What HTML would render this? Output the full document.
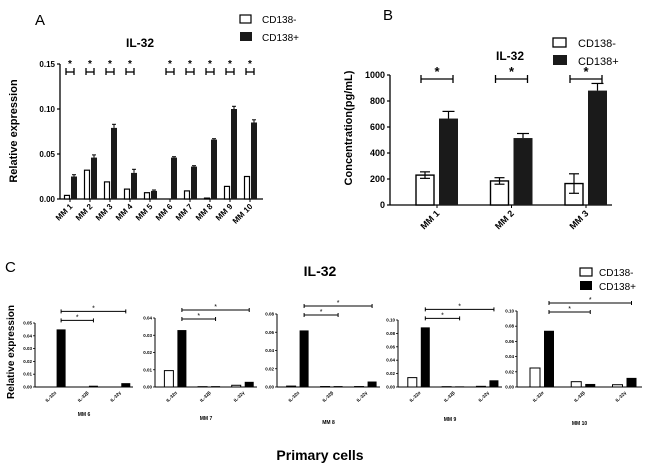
<!DOCTYPE html>
<html><head><meta charset="utf-8"><style>
body{margin:0;background:#fff;}
svg{display:block;font-family:"Liberation Sans",Arial,sans-serif;}
</style></head><body>
<svg id="fig" width="650" height="471" viewBox="0 0 650 471"></svg>
<script>
// Panel A data
const aCategories = ["MM 1","MM 2","MM 3","MM 4","MM 5","MM 6","MM 7","MM 8","MM 9","MM 10"];
const aNeg = [0.004,0.032,0.019,0.011,0.007,0,0.009,0.001,0.014,0.025];
const aPos = [0.025,0.046,0.079,0.029,0.009,0.046,0.036,0.066,0.100,0.085];
const aNegErr = [0.001,0.001,0.001,0.001,0.001,0,0.001,0.0005,0.001,0.001];
const aPosErr = [0.002,0.003,0.004,0.004,0.001,0.001,0.001,0.001,0.003,0.003];
const aSig = [true,true,true,true,false,true,true,true,true,true];
const aTicks = [0,0.05,0.10,0.15];
const aTickLabels = ["0.00","0.05","0.10","0.15"];
// Panel B data
const bCategories = ["MM 1","MM 2","MM 3"];
const bNeg = [230,185,165];
const bPos = [665,515,880];
const bNegErr = [25,25,75];
const bPosErr = [55,35,55];
const bTicks = [0,200,400,600,800,1000];
// Panel C data
const cSubjects = ["MM 6","MM 7","MM 8","MM 9","MM 10"];
const cIsoforms = ["IL-32α","IL-32β","IL-32γ"];
const cNeg = [[0,0,0],[0.0095,0.0002,0.001],[0.001,0.0005,0.0005],[0.014,0.0005,0.001],[0.025,0.007,0.003]];
const cPos = [[0.045,0.001,0.003],[0.033,0.0005,0.003],[0.062,0.001,0.006],[0.089,0.001,0.010],[0.074,0.004,0.012]];
const cMax = [0.05,0.04,0.08,0.10,0.10];
const cStep = [0.01,0.01,0.02,0.02,0.02];

const NS="http://www.w3.org/2000/svg";
const svg=document.getElementById('fig');
function el(tag,attrs,parent,text){const e=document.createElementNS(NS,tag);for(const k in attrs)e.setAttribute(k,attrs[k]);if(text!==undefined)e.textContent=text;(parent||svg).appendChild(e);return e;}
function line(x1,y1,x2,y2,w,p){return el('line',{x1,y1,x2,y2,stroke:'#000','stroke-width':w||1},p);}

// ---------- Panel A ----------
(function(){
  const g=el('g',{});
  
  
  const x0=60,x1=263,yZero=199,yTop=64,max=0.15;
  const y=v=>yZero-(v/max)*(yZero-yTop);
  const gx=i=>70+i*20;
  const t=el('text',{x:35,y:25,'font-size':15},g,'A');
  const ti=el('text',{x:140,y:47,'font-size':12,'font-weight':'bold','text-anchor':'middle'},g,'IL-32');
  const yl=el('text',{x:0,y:0,'font-size':11,'font-weight':'bold','text-anchor':'middle',transform:'translate(17,131) rotate(-90)'},g,'Relative expression');
  line(x0,yTop,x0,yZero,1.3,g);line(x0,yZero,x1,yZero,1.3,g);
  aTicks.forEach((v,i)=>{line(x0-3,y(v),x0,y(v),1.2,g);const tl=el('text',{x:x0-5,y:y(v)+3,'font-size':8,'font-weight':'bold','text-anchor':'end'},g,aTickLabels[i]);});
  aCategories.forEach((c,i)=>{
    const cx=gx(i);
    line(cx,yZero,cx,yZero+3,1,g);
    const w=el('rect',{x:cx-5.5,y:y(aNeg[i]),width:5,height:yZero-y(aNeg[i]),fill:'#fff',stroke:'#000','stroke-width':1.2},g);
    
    const b=el('rect',{x:cx+1,y:y(aPos[i]),width:6,height:yZero-y(aPos[i]),fill:'#1a1a1a'},g);
    
    if(aPosErr[i]>0){line(cx+4,y(aPos[i]),cx+4,y(aPos[i]+aPosErr[i]),1,g);line(cx+2,y(aPos[i]+aPosErr[i]),cx+6,y(aPos[i]+aPosErr[i]),1,g);}
    const lab=el('text',{x:0,y:0,'font-size':8,'font-weight':'bold','text-anchor':'end',transform:`translate(${cx+3},${yZero+8}) rotate(-45)`},g,c);
    
    if(aSig[i]){line(cx-4,68,cx-4,75,1.3,g);line(cx+4,68,cx+4,75,1.3,g);line(cx-4,72,cx+4,72,1.3,g);
      const s=el('text',{x:cx,y:67,'font-size':10,'font-weight':'bold','text-anchor':'middle'},g,'*');}
  });
  const l1=el('rect',{x:240,y:15,width:11,height:8,fill:'#fff',stroke:'#000','stroke-width':1.2},g);
  el('text',{x:262,y:23,'font-size':10},g,'CD138-');
  const l2=el('rect',{x:240,y:32,width:12,height:9,fill:'#1a1a1a'},g);
  el('text',{x:262,y:41,'font-size':10},g,'CD138+');
})();

// ---------- Panel B ----------
(function(){
  const g=el('g',{});
  
  
  const x0=390,x1=612,yZero=205,yTop=75,max=1000;
  const y=v=>yZero-(v/max)*(yZero-yTop);
  const gx=i=>437+i*74.5;
  el('text',{x:383,y:20,'font-size':15},g,'B');
  el('text',{x:510,y:60,'font-size':12,'font-weight':'bold','text-anchor':'middle'},g,'IL-32');
  const yl=el('text',{x:0,y:0,'font-size':11,'font-weight':'bold','text-anchor':'middle',transform:'translate(352,128) rotate(-90)'},g,'Concentration(pg/mL)');
  line(x0,yTop,x0,yZero,1.3,g);line(x0,yZero,x1,yZero,1.3,g);
  bTicks.forEach(v=>{line(x0-3,y(v),x0,y(v),1.2,g);el('text',{x:x0-5,y:y(v)+3,'font-size':9,'font-weight':'bold','text-anchor':'end'},g,String(v));});
  bCategories.forEach((c,i)=>{
    const cx=gx(i);
    line(cx,yZero,cx,yZero+3,1,g);
    const w=el('rect',{x:cx-21,y:y(bNeg[i]),width:18,height:yZero-y(bNeg[i]),fill:'#fff',stroke:'#000','stroke-width':1.4},g);
    
    const ec=cx-12;line(ec,y(bNeg[i]-bNegErr[i]),ec,y(bNeg[i]+bNegErr[i]),1.2,g);
    line(ec-5,y(bNeg[i]+bNegErr[i]),ec+5,y(bNeg[i]+bNegErr[i]),1.2,g);line(ec-5,y(bNeg[i]-bNegErr[i]),ec+5,y(bNeg[i]-bNegErr[i]),1.2,g);
    const b=el('rect',{x:cx+2,y:y(bPos[i]),width:19,height:yZero-y(bPos[i]),fill:'#1a1a1a'},g);
    
    const pc=cx+11.5;line(pc,y(bPos[i]),pc,y(bPos[i]+bPosErr[i]),1.2,g);line(pc-6,y(bPos[i]+bPosErr[i]),pc+6,y(bPos[i]+bPosErr[i]),1.2,g);
    el('text',{x:0,y:0,'font-size':9,'font-weight':'bold','text-anchor':'end',transform:`translate(${cx+3},${yZero+9}) rotate(-45)`},g,c);
    line(cx-16,79,cx+16,79,1.3,g);line(cx-16,75,cx-16,83,1.3,g);line(cx+16,75,cx+16,83,1.3,g);
    el('text',{x:cx,y:76,'font-size':13,'font-weight':'bold','text-anchor':'middle'},g,'*');
  });
  el('rect',{x:553,y:38,width:13,height:9,fill:'#fff',stroke:'#000','stroke-width':1.3},g);
  el('text',{x:578,y:47,'font-size':11},g,'CD138-');
  el('rect',{x:553,y:55,width:14,height:10,fill:'#1a1a1a'},g);
  el('text',{x:578,y:65,'font-size':11},g,'CD138+');
})();

// ---------- Panel C ----------
(function(){
  const g=el('g',{});
  
  
  el('text',{x:5,y:272,'font-size':15},g,'C');
  el('text',{x:320,y:276,'font-size':14,'font-weight':'bold','text-anchor':'middle'},g,'IL-32');
  const yl=el('text',{x:0,y:0,'font-size':10,'font-weight':'bold','text-anchor':'middle',transform:'translate(14,352) rotate(-90)'},g,'Relative expression');
  const px=el('text',{x:320,y:460,'font-size':14,'font-weight':'bold','text-anchor':'middle'},g,'Primary cells');
  el('rect',{x:580,y:268,width:12,height:8,fill:'#fff',stroke:'#000','stroke-width':1.2},g);
  el('text',{x:599,y:276,'font-size':10},g,'CD138-');
  el('rect',{x:580,y:281,width:12,height:9,fill:'#000'},g);
  el('text',{x:599,y:290,'font-size':10},g,'CD138+');
  const axL=[35,155,277,398,517], axR=[133,257,380,502,642], yTopPx=[323,318,314,320,311];
  const yZero=387;
  cSubjects.forEach((s,k)=>{
    const sg=el('g',{},g);
    
    
    const x0=axL[k],x1=axR[k],W=x1-x0,max=cMax[k];
    const y=v=>yZero-(v/max)*(yZero-yTopPx[k]);
    const bw=k===4?10:9;
    line(x0,yTopPx[k],x0,yZero,1,sg);line(x0,yZero,x1,yZero,1,sg);
    for(let v=0;v<=max+1e-9;v+=cStep[k]){line(x0-2,y(v),x0,y(v),0.8,sg);el('text',{x:x0-3,y:y(v)+1.5,'font-size':4.5,'font-weight':'bold','text-anchor':'end'},sg,v.toFixed(2));}
    const centers=[0.2,0.53,0.86].map(f=>x0+f*W);
    centers.forEach((cx,j)=>{
      const nv=cNeg[k][j],pv=cPos[k][j];
      const w=el('rect',{x:cx-bw-2,y:y(nv),width:bw,height:yZero-y(nv),fill:'#fff',stroke:'#000','stroke-width':1},sg);
      
      const b=el('rect',{x:cx+2,y:y(pv),width:bw,height:yZero-y(pv),fill:'#000'},sg);
      
      el('text',{x:0,y:0,'font-size':4.5,'font-weight':'bold','text-anchor':'end',transform:`translate(${cx+2},${yZero+6}) rotate(-45)`},sg,cIsoforms[j]);
    });
    const a=centers[0]+2+bw/2;
    const yHi=y(cPos[k][0])-9, yLo=y(cPos[k][0])-18;
    const upper=Math.min(yLo, yTopPx[k]-8), lower=upper+9;
    line(a,upper,centers[2]+2+bw/2,upper,1,sg);line(a,upper-2,a,upper+2,1,sg);line(centers[2]+2+bw/2,upper-2,centers[2]+2+bw/2,upper+2,1,sg);
    line(a,lower,centers[1]+2+bw/2,lower,1,sg);line(a,lower-2,a,lower+2,1,sg);line(centers[1]+2+bw/2,lower-2,centers[1]+2+bw/2,lower+2,1,sg);
    el('text',{x:(a+centers[2]+2+bw/2)/2,y:upper-1,'font-size':7,'text-anchor':'middle'},sg,'*');
    el('text',{x:(a+centers[1]+2+bw/2)/2,y:lower-1,'font-size':7,'text-anchor':'middle'},sg,'*');
    el('text',{x:x0+W*0.5,y:[416,420,424,421,425][k],'font-size':5,'font-weight':'bold','text-anchor':'middle'},sg,s);
  });
})();
</script>
</body></html>
